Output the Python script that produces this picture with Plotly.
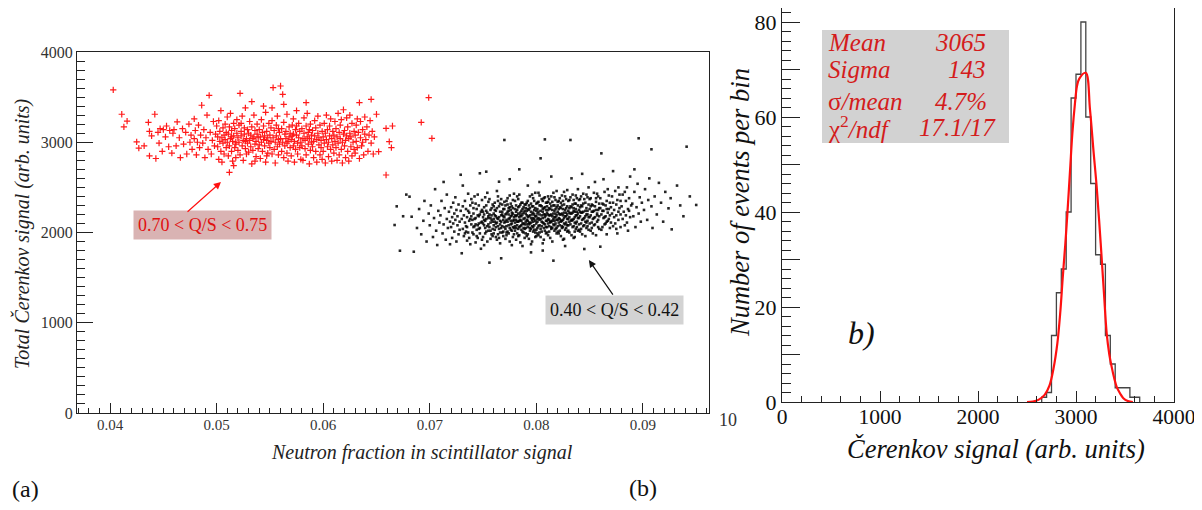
import plotly.graph_objects as go

# ---------------- data: panel (a) ----------------
# red events: 0.70 < Q/S < 0.75  (neutron fraction, total Cerenkov signal)
red_points = [
    (0.0403,3580),(0.0411,3310),(0.0413,3170),(0.0416,3235),
    (0.0425,3005),(0.0427,2935),(0.0432,2960),(0.0437,2850),(0.0437,3120),(0.0442,3310),(0.0436,3220),(0.0439,3070),
    (0.0443,2820),(0.0445,3110),(0.0446,2990),(0.0447,3150),(0.0449,2900),(0.0450,3140),(0.0452,3060),(0.0453,3180),(0.0455,2950),(0.0456,3130),(0.0458,2880),(0.0459,3100),
    (0.0460,3140),(0.0462,2960),(0.0463,3225),(0.0465,3050),(0.0466,2830),(0.0468,3150),(0.0469,2980),(0.0471,3110),(0.0472,2870),(0.0474,3200),(0.0475,3000),(0.0476,3080),(0.0477,2920),(0.0479,3260),(0.0479,3040),
    (0.0480,3130),(0.0481,2860),(0.0482,3000),(0.0483,3190),(0.0484,2940),(0.0485,3080),(0.0486,3410),(0.0487,2990),(0.0488,3140),(0.0489,2830),(0.0490,3050),(0.0491,3300),(0.0492,2920),(0.0493,3520),(0.0494,3110),(0.0495,2870),(0.0496,3020),(0.0497,3230),(0.0498,2960),(0.0499,3090),
    (0.0500,3180),(0.0501,2950),(0.0501,3060),(0.0502,2810),(0.0502,3240),(0.0503,3010),(0.0503,3120),(0.0504,2900),(0.0504,3350),(0.0505,3050),(0.0505,2780),(0.0506,3160),(0.0506,2990),(0.0507,3080),(0.0507,2870),(0.0508,3200),(0.0508,3030),(0.0509,2940),(0.0509,3110),(0.0512,2667),(0.0516,2740),
    (0.0510,3000),(0.0510,3280),(0.0511,2850),(0.0511,3090),(0.0512,3170),(0.0512,2960),(0.0513,3040),(0.0513,3320),(0.0514,2900),(0.0514,3130),(0.0515,3010),(0.0515,2790),(0.0516,3210),(0.0516,3070),(0.0517,2940),(0.0517,3150),(0.0518,3000),(0.0518,2830),(0.0519,3100),(0.0519,3250),(0.0514,3060),(0.0518,2980),
    (0.0520,3050),(0.0520,2910),(0.0521,3190),(0.0521,3000),(0.0522,3542),(0.0522,2860),(0.0523,3120),(0.0523,3070),(0.0524,2960),(0.0524,3290),(0.0525,3020),(0.0525,2800),(0.0526,3160),(0.0526,3090),(0.0527,2930),(0.0527,3380),(0.0528,3040),(0.0528,2870),(0.0529,3140),(0.0529,2990),(0.0523,3210),(0.0527,3010),
    (0.0530,3100),(0.0530,2890),(0.0531,3020),(0.0531,3230),(0.0532,2950),(0.0532,3080),(0.0533,2760),(0.0533,3170),(0.0534,3040),(0.0534,2910),(0.0535,3300),(0.0535,3060),(0.0536,2980),(0.0536,3130),(0.0537,2840),(0.0537,3010),(0.0538,3200),(0.0538,3090),(0.0539,2930),(0.0539,3050),(0.0533,3450),(0.0536,2790),
    (0.0540,3140),(0.0540,2970),(0.0541,3060),(0.0541,2820),(0.0542,3250),(0.0542,3000),(0.0543,3110),(0.0543,2900),(0.0544,3030),(0.0544,3180),(0.0545,2960),(0.0545,3070),(0.0546,2780),(0.0546,3330),(0.0547,3020),(0.0547,3120),(0.0548,2880),(0.0548,3050),(0.0549,3210),(0.0549,2990),(0.0544,3400),(0.0547,2850),
    (0.0550,3080),(0.0550,2940),(0.0551,3160),(0.0551,3010),(0.0552,2870),(0.0552,3240),(0.0553,3605),(0.0553,3050),(0.0554,2920),(0.0554,3130),(0.0555,3000),(0.0555,2770),(0.0556,3190),(0.0556,3070),(0.0557,2950),(0.0557,3290),(0.0558,3030),(0.0558,2860),(0.0559,3110),(0.0559,2980),(0.0552,3380),(0.0558,3150),
    (0.0560,3623),(0.0560,3040),(0.0561,2900),(0.0561,3150),(0.0562,3531),(0.0562,3000),(0.0563,3220),(0.0563,2830),(0.0564,3090),(0.0564,2960),(0.0565,3120),(0.0565,3040),(0.0566,2880),(0.0566,3310),(0.0567,3010),(0.0567,2790),(0.0568,3170),(0.0568,3060),(0.0569,2940),(0.0569,3100),(0.0563,3420),(0.0566,2990),
    (0.0570,3030),(0.0570,2850),(0.0571,3190),(0.0571,3070),(0.0572,2960),(0.0572,3260),(0.0573,3010),(0.0573,2780),(0.0574,3140),(0.0574,2920),(0.0575,3080),(0.0575,3350),(0.0576,2990),(0.0576,2870),(0.0577,3210),(0.0577,3050),(0.0578,2940),(0.0578,3120),(0.0579,3000),(0.0579,2810),(0.0575,3180),(0.0572,3090),
    (0.0580,3150),(0.0580,2960),(0.0581,3040),(0.0581,2800),(0.0582,3270),(0.0582,3100),(0.0583,2930),(0.0583,3020),(0.0584,3180),(0.0584,2860),(0.0585,3060),(0.0585,3320),(0.0586,2980),(0.0586,3110),(0.0587,2760),(0.0587,3040),(0.0588,3200),(0.0588,2910),(0.0589,3080),(0.0589,3000),(0.0584,3440),(0.0587,3140),
    (0.0590,2950),(0.0590,3130),(0.0591,3010),(0.0591,2830),(0.0592,3240),(0.0592,3070),(0.0593,2900),(0.0593,3160),(0.0594,3030),(0.0594,2780),(0.0595,3100),(0.0595,3290),(0.0596,2970),(0.0596,3050),(0.0597,2860),(0.0597,3190),(0.0598,3020),(0.0598,2940),(0.0599,3120),(0.0599,2810),
    (0.0600,3060),(0.0600,2900),(0.0601,3210),(0.0601,2990),(0.0602,3100),(0.0602,2770),(0.0603,3030),(0.0603,3300),(0.0604,2950),(0.0604,3140),(0.0605,3000),(0.0605,2840),(0.0606,3180),(0.0606,3070),(0.0607,2920),(0.0607,3260),(0.0608,3040),(0.0608,2790),(0.0609,3120),(0.0609,2970),
    (0.0610,3080),(0.0610,2880),(0.0611,3230),(0.0611,3010),(0.0612,2940),(0.0612,3150),(0.0613,2800),(0.0613,3060),(0.0614,3320),(0.0614,2990),(0.0615,3110),(0.0615,2860),(0.0616,3040),(0.0616,3190),(0.0617,2920),(0.0617,3250),(0.0618,3000),(0.0618,2770),(0.0619,3090),(0.0619,3360),
    (0.0620,2960),(0.0620,3130),(0.0621,3020),(0.0621,2830),(0.0622,3270),(0.0622,3070),(0.0623,2900),(0.0623,3170),(0.0624,3040),(0.0624,2790),(0.0625,3100),(0.0625,3300),(0.0626,2950),(0.0626,3060),(0.0627,2850),(0.0627,3210),(0.0628,3000),(0.0629,3120),(0.0629,2920),
    (0.0630,3080),(0.0630,2880),(0.0631,3190),(0.0631,3010),(0.0632,3260),(0.0632,2940),(0.0633,3110),(0.0634,3438),(0.0634,2820),(0.0635,3050),(0.0635,3230),(0.0636,2960),(0.0637,3140),(0.0637,3000),(0.0638,2860),(0.0639,3090),(0.0639,3280),
    (0.0640,3030),(0.0641,3170),(0.0642,2900),(0.0643,3080),(0.0644,3240),(0.0645,3475),(0.0645,2990),(0.0646,3120),(0.0647,2870),(0.0648,3060),(0.0650,3310),(0.0652,2896),(0.0659,2637),(0.0659,3154),(0.0662,3006),(0.0664,2940),(0.0665,3180),(0.0692,3221),(0.0699,3494),(0.0702,3044),
]

# black events: 0.40 < Q/S < 0.42
black_points = [
    (0.0667,2083),(0.0669,2290),
    (0.0672,1798),(0.0675,2180),(0.0678,2420),
    (0.0681,2397),(0.0683,2175),(0.0685,1787),(0.0688,2050),
    (0.0690,2260),(0.0692,1980),(0.0694,2130),(0.0695,2350),(0.0697,1900),(0.0699,2210),
    (0.0700,2080),(0.0701,2300),(0.0703,1950),(0.0704,2160),(0.0705,2480),(0.0706,2020),(0.0707,1861),(0.0708,2240),(0.0709,2110),
    (0.0710,2190),(0.0711,2350),(0.0712,1990),(0.0713,2090),(0.0714,2270),(0.0715,1920),(0.0716,2150),(0.0716,2420),(0.0717,2050),(0.0718,2230),(0.0719,1870),(0.0719,2120),(0.0713,2560),
    (0.0720,2060),(0.0720,2280),(0.0721,2170),(0.0721,1940),(0.0722,2330),(0.0722,2100),(0.0723,2010),(0.0723,2210),(0.0724,2390),(0.0724,2140),(0.0725,1900),(0.0725,2250),(0.0726,2080),(0.0726,2180),(0.0727,1980),(0.0727,2310),(0.0728,2120),(0.0728,2030),(0.0729,2240),(0.0729,2640),
    (0.0730,2150),(0.0730,1770),(0.0731,2290),(0.0731,2040),(0.0732,2190),(0.0732,1960),(0.0733,2350),(0.0733,2110),(0.0734,2070),(0.0734,2260),(0.0735,1910),(0.0735,2170),(0.0736,2430),(0.0736,2000),(0.0737,2130),(0.0737,2220),(0.0738,1870),(0.0738,2300),(0.0739,2090),(0.0739,2180),
    (0.0731,2520),(0.0733,1990),(0.0735,2060),(0.0736,2240),(0.0737,1940),(0.0738,2150),(0.0739,2370),(0.0734,2010),
    (0.0740,2140),(0.0740,2330),(0.0741,1980),(0.0741,2210),(0.0742,2070),(0.0742,2400),(0.0743,1890),(0.0743,2160),(0.0744,2260),(0.0744,2030),(0.0745,2190),(0.0745,1940),(0.0746,2300),(0.0746,2100),(0.0747,2656),(0.0747,2050),(0.0748,2230),(0.0748,1820),(0.0749,2120),(0.0749,2360),
    (0.0740,2000),(0.0741,2270),(0.0742,2150),(0.0743,2090),(0.0744,1960),(0.0745,2420),(0.0746,2180),(0.0747,1990),(0.0748,2110),(0.0749,2250),(0.0741,2060),(0.0743,2320),(0.0745,2080),(0.0747,2200),(0.0749,1920),(0.0746,2040),
    (0.0750,2170),(0.0750,1950),(0.0751,2280),(0.0751,2080),(0.0752,2130),(0.0752,2390),(0.0753,2674),(0.0753,2010),(0.0754,2220),(0.0754,1900),(0.0755,2160),(0.0755,2340),(0.0756,1666),(0.0756,2060),(0.0757,2250),(0.0757,2110),(0.0758,1980),(0.0758,2190),(0.0759,2310),(0.0759,2040),
    (0.0750,2230),(0.0751,1860),(0.0752,2050),(0.0753,2150),(0.0754,2440),(0.0755,2090),(0.0756,2200),(0.0757,1930),(0.0758,2270),(0.0759,2120),(0.0750,2100),(0.0751,2200),(0.0752,1990),(0.0753,2300),(0.0754,2070),(0.0755,2180),(0.0756,2370),(0.0757,2020),(0.0758,2140),(0.0759,1960),
    (0.0751,2140),(0.0753,2240),(0.0755,2020),(0.0757,2160),
    (0.0760,2210),(0.0760,1990),(0.0761,2120),(0.0761,2330),(0.0762,2060),(0.0762,2180),(0.0763,1920),(0.0763,2270),(0.0764,2150),(0.0764,2400),(0.0765,2563),(0.0765,2040),(0.0766,2230),(0.0766,2090),(0.0767,1714),(0.0767,2190),(0.0768,2310),(0.0768,2000),(0.0769,2140),(0.0769,2260),
    (0.0760,2080),(0.0761,2250),(0.0762,1950),(0.0763,2110),(0.0764,2350),(0.0765,2170),(0.0766,1880),(0.0767,2050),(0.0768,2200),(0.0769,2010),(0.0760,2290),(0.0761,2030),(0.0762,2240),(0.0763,2160),(0.0764,1980),(0.0765,2290),(0.0766,2130),(0.0767,2370),(0.0768,2070),(0.0769,2180),
    (0.0760,2150),(0.0762,2100),(0.0763,2460),(0.0764,2070),(0.0765,1940),(0.0766,2320),(0.0767,2120),(0.0768,2230),(0.0769,1960),(0.0761,2190),(0.0766,2000),
    (0.0770,3025),(0.0770,2170),(0.0771,2040),(0.0771,2300),(0.0772,2210),(0.0772,1970),(0.0773,2120),(0.0773,2380),(0.0774,2080),(0.0774,2240),(0.0775,1900),(0.0775,2160),(0.0776,2320),(0.0776,2030),(0.0777,2190),(0.0777,2100),(0.0778,2270),(0.0778,1950),(0.0779,2140),(0.0779,2430),
    (0.0770,2060),(0.0771,2200),(0.0772,2350),(0.0773,2010),(0.0774,2150),(0.0775,2280),(0.0776,2090),(0.0777,1860),(0.0778,2210),(0.0779,2050),(0.0770,2260),(0.0771,2120),(0.0772,2070),(0.0773,2230),(0.0774,1990),(0.0775,2410),(0.0776,2180),(0.0777,2290),(0.0778,2130),(0.0779,1980),
    (0.0770,2110),(0.0771,1930),(0.0772,2140),(0.0773,2310),(0.0774,2200),(0.0775,2050),(0.0776,2250),(0.0777,2020),(0.0778,2360),(0.0779,2170),(0.0770,2340),(0.0772,2000),(0.0774,2270),(0.0776,2130),(0.0778,2060),(0.0775,2590),(0.0777,2220),
    (0.0780,2190),(0.0780,2020),(0.0781,2300),(0.0781,2140),(0.0782,2080),(0.0782,2250),(0.0783,1960),(0.0783,2370),(0.0784,2170),(0.0784,2060),(0.0785,2220),(0.0785,1890),(0.0786,2130),(0.0786,2330),(0.0787,2010),(0.0787,2200),(0.0788,2280),(0.0788,2100),(0.0789,1940),(0.0789,2160),
    (0.0780,2350),(0.0781,2050),(0.0782,2190),(0.0783,2120),(0.0784,2420),(0.0785,2070),(0.0786,2240),(0.0787,1850),(0.0788,2150),(0.0789,2310),(0.0780,2110),(0.0781,2230),(0.0782,1990),(0.0783,2210),(0.0784,2290),(0.0785,2140),(0.0786,2030),(0.0787,2260),(0.0788,2000),(0.0789,2090),
    (0.0780,2260),(0.0781,1920),(0.0782,2400),(0.0783,2040),(0.0784,2130),(0.0785,2310),(0.0786,2180),(0.0787,2100),(0.0788,2220),(0.0789,2040),(0.0780,2070),(0.0781,2180),(0.0782,2120),(0.0783,2280),(0.0784,1970),(0.0785,2190),(0.0786,2080),(0.0787,2330),(0.0788,2050),(0.0789,2240),(0.0784,2700),
    (0.0790,2210),(0.0790,2050),(0.0791,2140),(0.0791,2330),(0.0792,1980),(0.0792,2260),(0.0793,2090),(0.0793,2180),(0.0794,2400),(0.0794,2020),(0.0795,2230),(0.0795,2110),(0.0796,1900),(0.0796,2290),(0.0797,2160),(0.0797,2060),(0.0798,2350),(0.0798,2200),(0.0799,2000),(0.0799,2130),
    (0.0790,2310),(0.0791,1960),(0.0792,2170),(0.0793,2250),(0.0794,2100),(0.0795,2040),(0.0796,2200),(0.0797,2380),(0.0798,2080),(0.0799,2270),(0.0790,2120),(0.0791,2240),(0.0792,2060),(0.0793,1930),(0.0794,2190),(0.0795,2320),(0.0796,2140),(0.0797,2010),(0.0798,2150),(0.0799,2440),
    (0.0790,1990),(0.0791,2190),(0.0792,2350),(0.0793,2110),(0.0794,2270),(0.0795,1870),(0.0796,2070),(0.0797,2220),(0.0798,2030),(0.0799,2180),(0.0790,2270),(0.0791,2090),(0.0792,2130),(0.0793,2300),(0.0794,2050),(0.0795,2160),(0.0796,2420),(0.0797,2120),(0.0798,2250),(0.0799,1950),
    (0.0792,2520),(0.0795,1780),(0.0797,2290),
    (0.0800,2180),(0.0800,2030),(0.0801,2260),(0.0801,2120),(0.0802,1970),(0.0802,2340),(0.0803,2200),(0.0803,2080),(0.0804,2822),(0.0804,2150),(0.0805,2290),(0.0805,2010),(0.0806,2230),(0.0806,2110),(0.0807,1920),(0.0807,2380),(0.0808,3032),(0.0808,2170),(0.0809,2060),(0.0809,2250),
    (0.0800,2320),(0.0801,1990),(0.0802,2160),(0.0803,2410),(0.0804,2040),(0.0805,2190),(0.0806,1880),(0.0807,2100),(0.0808,2280),(0.0809,2130),(0.0800,2100),(0.0801,2210),(0.0802,2070),(0.0803,2300),(0.0804,2240),(0.0805,2120),(0.0806,2350),(0.0807,2200),(0.0808,2020),(0.0809,2190),
    (0.0800,2240),(0.0801,2050),(0.0802,2440),(0.0803,2140),(0.0804,1950),(0.0805,2370),(0.0806,2160),(0.0807,2270),(0.0808,2090),(0.0809,2330),(0.0800,1960),(0.0801,2150),(0.0802,2230),(0.0803,2000),(0.0804,2300),(0.0805,2070),(0.0806,2260),(0.0807,2050),(0.0808,2200),(0.0809,1990),
    (0.0803,2560),(0.0806,1800),(0.0808,2390),(0.0801,2330),
    (0.0810,2220),(0.0810,2060),(0.0811,2150),(0.0811,2340),(0.0812,2010),(0.0812,2270),(0.0813,2110),(0.0813,2190),(0.0814,2400),(0.0814,2040),(0.0815,2250),(0.0815,2130),(0.0816,1688),(0.0816,2300),(0.0817,2170),(0.0817,2080),(0.0818,2360),(0.0818,2210),(0.0819,1990),(0.0819,2140),
    (0.0810,2330),(0.0811,1970),(0.0812,2190),(0.0813,2260),(0.0814,2120),(0.0815,2050),(0.0816,2210),(0.0817,2390),(0.0818,2100),(0.0819,2280),(0.0810,2130),(0.0811,2250),(0.0812,2070),(0.0813,1940),(0.0814,2200),(0.0815,2340),(0.0816,2150),(0.0817,2020),(0.0818,2170),(0.0819,2460),
    (0.0810,2000),(0.0811,2200),(0.0812,2370),(0.0813,2120),(0.0814,2290),(0.0815,1900),(0.0816,2090),(0.0817,2240),(0.0818,2040),(0.0819,2190),(0.0810,2290),(0.0811,2100),(0.0812,2140),(0.0813,2320),(0.0814,2060),(0.0815,2180),(0.0816,2440),(0.0817,2130),(0.0818,2260),(0.0819,2050),
    (0.0814,2620),(0.0817,2300),(0.0811,2400),
    (0.0820,2230),(0.0820,2070),(0.0821,2160),(0.0821,2350),(0.0822,2020),(0.0822,2280),(0.0823,2120),(0.0823,2200),(0.0824,2410),(0.0824,2050),(0.0825,2260),(0.0825,2140),(0.0826,1930),(0.0826,2310),(0.0827,2180),(0.0827,2090),(0.0828,2370),(0.0828,2220),(0.0829,2010),(0.0829,2150),
    (0.0820,2340),(0.0821,1990),(0.0822,2200),(0.0823,2270),(0.0824,2130),(0.0825,2060),(0.0826,2220),(0.0827,2400),(0.0828,2110),(0.0829,2290),(0.0820,2140),(0.0821,2260),(0.0822,2080),(0.0823,1960),(0.0824,2210),(0.0825,2350),(0.0826,2160),(0.0827,2030),(0.0828,2180),(0.0829,2470),
    (0.0820,2010),(0.0821,2210),(0.0822,2380),(0.0823,2130),(0.0824,2300),(0.0825,1920),(0.0826,2100),(0.0827,2250),(0.0828,2050),(0.0829,2200),(0.0820,2300),(0.0822,2150),(0.0824,2070),(0.0826,2450),(0.0828,2270),(0.0821,2110),(0.0823,2330),(0.0825,2190),(0.0827,1850),(0.0829,2080),
    (0.0830,2240),(0.0830,2080),(0.0831,2170),(0.0831,2360),(0.0832,3025),(0.0832,2290),(0.0833,2130),(0.0833,2210),(0.0834,2420),(0.0834,2060),(0.0835,2270),(0.0835,2150),(0.0836,1950),(0.0836,2320),(0.0837,2190),(0.0837,2100),(0.0838,2380),(0.0838,2230),(0.0839,2020),(0.0839,2160),
    (0.0830,2350),(0.0831,2000),(0.0832,2210),(0.0833,2280),(0.0834,2140),(0.0835,2070),(0.0836,2230),(0.0837,2410),(0.0838,2120),(0.0839,2300),(0.0830,2150),(0.0831,2270),(0.0832,2090),(0.0833,1970),(0.0834,2220),(0.0835,2360),(0.0836,2170),(0.0837,2040),(0.0838,2190),(0.0839,2480),
    (0.0830,2020),(0.0831,2220),(0.0832,2390),(0.0833,2140),(0.0834,2310),(0.0835,1940),(0.0836,2110),(0.0837,2260),(0.0838,2060),(0.0839,2210),(0.0833,2600),(0.0835,2240),(0.0837,2320),(0.0831,2120),(0.0836,2010),
    (0.0840,2250),(0.0840,2090),(0.0841,2180),(0.0841,2370),(0.0842,2040),(0.0842,2300),(0.0843,2140),(0.0843,2220),(0.0844,2430),(0.0844,2070),(0.0845,1817),(0.0845,2160),(0.0846,1960),(0.0846,2330),(0.0847,2200),(0.0847,2110),(0.0848,2390),(0.0848,2240),(0.0849,2030),(0.0849,2170),
    (0.0840,2360),(0.0841,2010),(0.0842,2220),(0.0843,2290),(0.0844,2150),(0.0845,2080),(0.0846,2240),(0.0847,2420),(0.0848,2130),(0.0849,2310),(0.0840,2160),(0.0841,2280),(0.0842,2100),(0.0843,1980),(0.0844,2230),(0.0845,2370),(0.0846,2180),(0.0847,2050),(0.0848,2200),(0.0849,2500),
    (0.0840,2030),(0.0842,2400),(0.0844,2320),(0.0846,2120),(0.0848,2070),(0.0841,2230),(0.0843,2650),(0.0847,2270),
    (0.0850,2260),(0.0850,2100),(0.0851,2190),(0.0851,2380),(0.0852,2050),(0.0852,2310),(0.0853,2150),(0.0853,2230),(0.0854,2440),(0.0854,2080),(0.0855,2290),(0.0855,2170),(0.0856,1970),(0.0856,2340),(0.0857,2210),(0.0857,2120),(0.0858,2400),(0.0858,2250),(0.0859,2040),(0.0859,2180),
    (0.0850,2370),(0.0851,2020),(0.0852,2230),(0.0853,2300),(0.0854,2160),(0.0855,2090),(0.0856,2250),(0.0857,2430),(0.0858,2140),(0.0859,2320),(0.0850,2170),(0.0852,2110),(0.0854,2240),(0.0856,2380),(0.0858,2060),(0.0851,2290),(0.0853,1990),(0.0855,2560),(0.0857,2190),(0.0859,2270),
    (0.0860,1843),(0.0860,2270),(0.0861,2877),(0.0861,2200),(0.0862,2060),(0.0862,2320),(0.0863,2160),(0.0863,2240),(0.0864,2450),(0.0864,2090),(0.0865,2300),(0.0865,2180),(0.0866,1980),(0.0866,2350),(0.0867,2220),(0.0867,2130),(0.0868,2410),(0.0868,2260),(0.0869,2050),(0.0869,2190),
    (0.0860,2380),(0.0861,2030),(0.0862,2240),(0.0863,2310),(0.0864,2170),(0.0865,2100),(0.0866,2260),(0.0867,2480),(0.0868,2150),(0.0869,2330),(0.0863,2590),(0.0866,2120),
    (0.0870,2280),(0.0870,2110),(0.0871,2210),(0.0871,2400),(0.0872,2070),(0.0872,2330),(0.0873,2170),(0.0873,2250),(0.0874,2460),(0.0874,2100),(0.0875,2310),(0.0875,2190),(0.0876,1990),(0.0876,2360),(0.0877,2230),(0.0877,2140),(0.0878,2420),(0.0878,2270),(0.0879,2060),(0.0879,2200),
    (0.0872,2680),(0.0875,2040),(0.0877,2500),(0.0879,2350),
    (0.0880,2290),(0.0881,2150),(0.0881,2420),(0.0882,2230),(0.0883,2080),(0.0884,2350),(0.0884,2190),(0.0885,2500),(0.0886,2260),(0.0886,2020),(0.0887,2380),(0.0888,2170),(0.0888,2620),(0.0889,2300),(0.0883,2450),(0.0885,2110),(0.0887,2240),
    (0.0890,2320),(0.0891,2180),(0.0892,2450),(0.0893,2060),(0.0894,2280),(0.0895,2540),(0.0896,3044),(0.0896,2210),(0.0897,2390),(0.0898,2120),(0.0899,2330),(0.0892,2700),
    (0.0901,2250),(0.0902,2480),(0.0904,2140),(0.0905,2360),(0.0906,2600),(0.0908,2922),(0.0908,2290),(0.0909,2050),
    (0.0911,2400),(0.0913,2200),(0.0915,2550),(0.0917,2330),(0.0919,2120),
    (0.0921,2450),(0.0924,2268),(0.0926,2380),(0.0927,2035),
    (0.0932,2520),(0.0935,2300),(0.0938,2180),
    (0.0941,2951),(0.0944,2400),
    (0.0950,2305),
]

# ---------------- data: panel (b) ----------------
hist_edges = [2650, 2700, 2750, 2800, 2850, 2900, 2950, 3000, 3050, 3100, 3150,
              3200, 3250, 3300, 3350, 3400, 3450, 3500, 3550, 3600, 3650]
hist_counts = [1, 2, 14, 23, 28, 40, 64, 69, 80, 60, 46, 31, 29, 14, 8, 3, 3, 3, 1, 1]

fit_x = [2500, 2560, 2620, 2680, 2730, 2770, 2810, 2840, 2864, 2890, 2912, 2940, 2963, 2990,
         3010, 3034, 3099, 3143, 3180, 3211, 3252, 3285, 3313, 3340, 3364, 3390, 3415, 3450,
         3483, 3530, 3580]
fit_y = [0, 0.1, 0.5, 1.5, 3.5, 7, 12.4, 19, 26, 33, 39.7, 49, 56.6, 63,
         66.5, 68.1, 69.3, 61.5, 52.5, 45.3, 33.4, 23, 14.5, 10, 7.4, 5, 3.2, 1.8,
         0.8, 0.2, 0]

stats_labels = ["<i>Mean</i>", "<i>Sigma</i>", "σ<i>/mean</i>", "χ<sup>2</sup><i>/ndf</i>"]
stats_values = ["<i>3065</i>", "<i>143</i>", "<i>4.7%</i>", "<i>17.1/17</i>"]

y2_tick_values = [0, 10, 20, 30, 40, 50, 60, 70, 80]
y2_tick_labels = ["0", "", "20", "", "40", "", "60", "", "80"]

# ---------------- figure ----------------
# The page body has an 8 px default margin, so the figure is made 16 px
# smaller and all placements are given in window pixels via px()/py().
OFF = 8
FW, FH = 1186, 494
SERIF = "Liberation Serif"
RED_TXT = "#d41c1c"


def px(x):
    return (x - OFF) / FW


def py(y):
    return min(1.0, 1 - (y - OFF) / FH)


fig = go.Figure()

fig.add_trace(go.Scatter(
    x=[p[0] for p in black_points], y=[p[1] for p in black_points],
    mode="markers", xaxis="x", yaxis="y", hoverinfo="skip",
    marker=dict(symbol="square", size=2.6, color="black", opacity=0.85, line=dict(width=0)),
))
fig.add_trace(go.Scatter(
    x=[p[0] for p in red_points], y=[p[1] for p in red_points],
    mode="markers", xaxis="x", yaxis="y", hoverinfo="skip",
    marker=dict(symbol="cross-thin", size=4.5, color="#ff1a1a",
                line=dict(width=1.2, color="#ff1a1a")),
))

step_x = [hist_edges[0]] + hist_edges
step_y = [0] + hist_counts + [0]
fig.add_trace(go.Scatter(
    x=step_x, y=step_y, mode="lines", line_shape="hv",
    line=dict(color="#454545", width=1.3), xaxis="x2", yaxis="y2", hoverinfo="skip",
))
fig.add_trace(go.Scatter(
    x=fit_x, y=fit_y, mode="lines", line_shape="spline",
    line=dict(color="#ff1010", width=2.2), xaxis="x2", yaxis="y2", hoverinfo="skip",
))

axis_common = dict(showgrid=False, zeroline=False, showline=True, mirror=True,
                   linecolor="#222", linewidth=1.2, ticks="inside", tickcolor="#222",
                   tickwidth=1.2, automargin=False, ticklabeloverflow="allow")

fig.update_layout(
    width=FW, height=FH, margin=dict(l=0, r=0, t=0, b=0, pad=0),
    paper_bgcolor="white", plot_bgcolor="white", showlegend=False,
    font=dict(family=SERIF, color="#111"),
    xaxis=dict(domain=[px(77), px(709)], range=[0.0369, 0.0962], anchor="y",
               tick0=0.04, dtick=0.01, tickformat=".2f", ticklen=10,
               ticklabelstandoff=-2,
               tickfont=dict(family=SERIF, size=15, color="#333"),
               minor=dict(dtick=0.001, tick0=0.04, ticks="inside", ticklen=5,
                          tickcolor="#222", tickwidth=1),
               **axis_common),
    yaxis=dict(domain=[py(413), py(52)], range=[0, 4000], anchor="x",
               tick0=0, dtick=1000, ticklen=16,
               tickfont=dict(family=SERIF, size=16, color="#333"),
               minor=dict(dtick=100, tick0=0, ticks="inside", ticklen=8,
                          tickcolor="#222", tickwidth=1),
               **axis_common),
    xaxis2=dict(domain=[px(782), px(1174)], range=[0, 4000], anchor="y2",
                tick0=0, dtick=1000, ticklen=11,
                ticklabelstandoff=-5,
                tickfont=dict(family=SERIF, size=21.5, color="#111"),
                minor=dict(dtick=200, tick0=0, ticks="inside", ticklen=6,
                           tickcolor="#222", tickwidth=1),
                **axis_common),
    yaxis2=dict(domain=[py(402), py(8)], range=[0, 82.95], anchor="x2",
                tickmode="array", tickvals=y2_tick_values, ticktext=y2_tick_labels,
                ticklen=18,
                tickfont=dict(family=SERIF, size=22, color="#111"),
                minor=dict(dtick=2, tick0=0, ticks="inside", ticklen=9,
                           tickcolor="#222", tickwidth=1),
                **axis_common),
)

# stats box
fig.add_shape(type="rect", xref="paper", yref="paper",
              x0=px(822), x1=px(1009), y0=py(143), y1=py(30),
              fillcolor="#d2d2d2", line=dict(width=0), layer="above")


def txt(text, x, y, size, color="#111", xanchor="center", angle=0):
    return dict(text=text, x=px(x), y=py(y), xref="paper", yref="paper",
                xanchor=xanchor, yanchor="middle", textangle=angle,
                showarrow=False, font=dict(family=SERIF, size=size, color=color))


ann = []
row_y = [43, 70, 101, 127]
val_right = [988, 988, 989, 998]
for lab, val, yy, xr in zip(stats_labels, stats_values, row_y, val_right):
    ann.append(txt(lab, 826, yy, 25, RED_TXT, xanchor="left"))
    ann.append(txt(val, xr, yy, 25, RED_TXT, xanchor="right"))

ann += [
    txt("<i>b)</i>", 861, 333, 32),
    txt("<i>Number of events per bin</i>", 740, 203, 26.5, angle=-90),
    txt("<i>Čerenkov signal (arb. units)</i>", 996, 449, 26.5),
    txt("<i>Total Čerenkov signal (arb. units)</i>", 22, 234, 20, "#222", angle=-90),
    txt("<i>Neutron fraction in scintillator signal</i>", 422, 452, 20, "#222"),
    txt("10", 728, 420, 18, "#333"),
    txt("(a)", 25, 489, 24),
    txt("(b)", 643, 488, 24),
    # label boxes
    dict(text="0.70 < Q/S < 0.75", x=0.04863, y=2083, xref="x", yref="y",
         xanchor="center", yanchor="middle",
         showarrow=False, bgcolor="#d9b3b3", borderpad=4,
         font=dict(family=SERIF, size=18, color="#e01010")),
    dict(text="0.40 < Q/S < 0.42", x=0.08737, y=1141, xref="x", yref="y",
         xanchor="center", yanchor="middle",
         showarrow=False, bgcolor="#d3d3d3", borderpad=4,
         font=dict(family=SERIF, size=18, color="#111")),
    # arrows
    dict(text="", x=0.05041, y=2560, xref="x", yref="y",
         ax=0.04713, ay=2216, axref="x", ayref="y",
         showarrow=True, arrowhead=2, arrowsize=1.2, arrowwidth=1.2, arrowcolor="#ff1010"),
    dict(text="", x=0.08493, y=1695, xref="x", yref="y",
         ax=0.08728, ay=1296, axref="x", ayref="y",
         showarrow=True, arrowhead=2, arrowsize=1.2, arrowwidth=1.2, arrowcolor="#111"),
]
fig.update_layout(annotations=ann)

fig.write_html("out.html")
